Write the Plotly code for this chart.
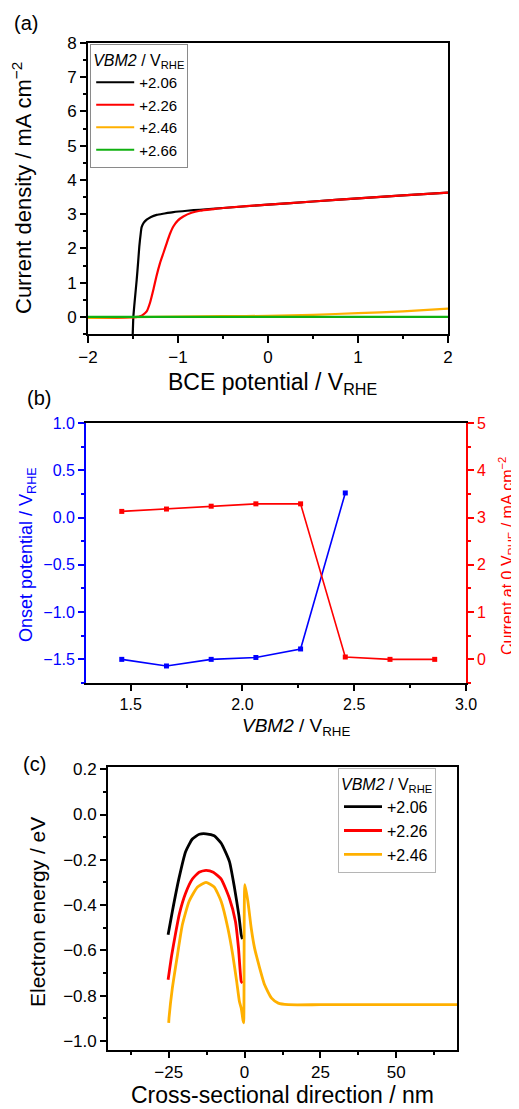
import plotly.graph_objects as go

# ---------------- Panel (a) data: J-V curves ----------------
a_black_x = [-1.51, -1.503, -1.496, -1.478, -1.459, -1.443, -1.43, -1.415, -1.404, -1.38, -1.348, -1.3,
             -1.237, -1.15, -1.052, -0.9, -0.756, -0.5, 0.0, 0.5, 1.0, 1.5, 2.0]
a_black_y = [-1.0, -0.5, 0.0, 0.55, 1.08, 1.6, 2.05, 2.42, 2.62, 2.75, 2.84, 2.92,
             2.98, 3.02, 3.06, 3.1, 3.13, 3.18, 3.28, 3.37, 3.46, 3.55, 3.63]
a_red_x = [-2.0, -1.6, -1.45, -1.422, -1.39, -1.348, -1.31, -1.274, -1.24, -1.2, -1.16, -1.126,
           -1.09, -1.052, -1.0, -0.941, -0.85, -0.756, -0.6, -0.5, 0.0, 0.5, 1.0, 1.5, 2.0]
a_red_y = [-0.03, -0.02, 0.0, 0.02, 0.06, 0.16, 0.42, 0.79, 1.18, 1.57, 1.88, 2.15,
           2.42, 2.64, 2.82, 2.93, 3.04, 3.1, 3.15, 3.18, 3.28, 3.37, 3.46, 3.55, 3.63]
a_orange_x = [-2.0, -1.5, -1.0, -0.5, 0.0, 0.5, 1.0, 1.5, 2.0]
a_orange_y = [-0.03, -0.01, 0.01, 0.02, 0.03, 0.06, 0.11, 0.16, 0.24]
a_green_x = [-2.0, -1.0, 0.0, 1.0, 2.0]
a_green_y = [0.0, 0.0, 0.0, 0.0, 0.0]
a_labels = ["+2.06", "+2.26", "+2.46", "+2.66"]

# ---------------- Panel (b) data ----------------
b_vbm_onset = [1.46, 1.66, 1.86, 2.06, 2.26, 2.46]
b_onset = [-1.50, -1.57, -1.50, -1.48, -1.39, 0.26]
b_vbm_current = [1.46, 1.66, 1.86, 2.06, 2.26, 2.46, 2.66, 2.86]
b_current = [3.13, 3.18, 3.24, 3.29, 3.29, 0.05, 0.0, 0.0]

# ---------------- Panel (c) data: band profiles ----------------
c_black_x = [-25.2, -23.8, -21.6, -19.4, -17.2, -14.9, -12.7, -10.0, -7.7, -5.0, -3.3, -1.9, -1.1, -0.7]
c_black_y = [-0.531, -0.428, -0.281, -0.163, -0.108, -0.087, -0.085, -0.094, -0.127, -0.207, -0.325, -0.443, -0.531, -0.55]
c_red_x = [-25.2, -24.0, -22.8, -21.5, -19.5, -17.2, -15.0, -12.7, -10.3, -7.7, -5.0, -3.0, -2.0, -1.1, -0.7]
c_red_y = [-0.730, -0.620, -0.530, -0.440, -0.350, -0.285, -0.255, -0.247, -0.255, -0.285, -0.370, -0.472, -0.590, -0.737, -0.745]
c_orange_x = [-25.0, -24.9, -23.8, -22.1, -20.5, -18.3, -15.5, -12.7, -10.0, -7.7, -5.5, -3.9, -2.6, -1.7, -1.1, -0.5,
              -0.3, 0.1, 1.1, 2.2, 3.3, 5.0, 6.6, 8.9, 11.1, 14.4, 25.0, 50.0, 70.0]
c_orange_y = [-0.92, -0.899, -0.767, -0.619, -0.487, -0.384, -0.320, -0.300, -0.320, -0.384, -0.502, -0.619, -0.737, -0.826, -0.855, -0.91,
              -0.92, -0.31, -0.384, -0.502, -0.590, -0.679, -0.752, -0.811, -0.833, -0.840, -0.840, -0.840, -0.840]
c_labels = ["+2.06", "+2.26", "+2.46"]

BLACK = "#000000"
RED = "#ff0000"
ORANGE = "#ffb000"
GREEN = "#10b010"
BLUE = "#0000ff"
FONT = "Liberation Sans, Arial, sans-serif"

fig = go.Figure()

# Panel (a)
for xs, ys, col, name in [(a_black_x, a_black_y, BLACK, a_labels[0]),
                          (a_red_x, a_red_y, RED, a_labels[1]),
                          (a_orange_x, a_orange_y, ORANGE, a_labels[2]),
                          (a_green_x, a_green_y, GREEN, a_labels[3])]:
    fig.add_trace(go.Scatter(x=xs, y=ys, mode="lines", name=name, line=dict(color=col, width=2.2, shape="spline", smoothing=0.6),
                             xaxis="x", yaxis="y", legend="legend"))

# Panel (b)
fig.add_trace(go.Scatter(x=b_vbm_onset, y=b_onset, mode="lines+markers", line=dict(color=BLUE, width=1.6),
                         marker=dict(symbol="square", size=5, color=BLUE), xaxis="x2", yaxis="y2", showlegend=False))
fig.add_trace(go.Scatter(x=b_vbm_current, y=b_current, mode="lines+markers", line=dict(color=RED, width=1.6),
                         marker=dict(symbol="square", size=5, color=RED), xaxis="x2", yaxis="y3", showlegend=False))

# Panel (c)
for xs, ys, col, name in [(c_black_x, c_black_y, BLACK, c_labels[0]),
                          (c_red_x, c_red_y, RED, c_labels[1]),
                          (c_orange_x, c_orange_y, ORANGE, c_labels[2])]:
    fig.add_trace(go.Scatter(x=xs, y=ys, mode="lines", name=name, line=dict(color=col, width=2.8, shape="spline", smoothing=0.5),
                             xaxis="x3", yaxis="y4", legend="legend2"))


def ax(domain, rng, dtick, mdtick, size, color=BLACK, mirror=True, anchor=None, tick0=None, **kw):
    d = dict(domain=domain, range=rng, dtick=dtick, ticks="outside", ticklen=6, tickwidth=1.5, tickcolor=color,
             showline=True, linecolor=color, linewidth=1.8, mirror=mirror, showgrid=False, zeroline=False,
             automargin=False,
             tickfont=dict(family=FONT, size=size, color=color),
             minor=dict(ticks="outside", dtick=mdtick, ticklen=3, tickwidth=1.5, tickcolor=color, showgrid=False))
    if anchor:
        d["anchor"] = anchor
    if tick0 is not None:
        d["tick0"] = tick0
        d["minor"]["tick0"] = tick0
    d.update(kw)
    return d


# The page body has an 8px default margin: the figure is placed at (8, 8) in the window.
OFF = 8
W, H = 519 - OFF, 1109 - OFF
def px(x):
    return (x - OFF) / W
def py(y):
    return 1 - (y - OFF) / H

fig.update_layout(
    width=W, height=H, margin=dict(l=0, r=0, t=0, b=0, pad=0, autoexpand=False),
    paper_bgcolor="white", plot_bgcolor="white",
    font=dict(family=FONT, color=BLACK),
    xaxis=ax([px(88), px(448)], [-2, 2], 1, 0.5, 17, anchor="y", ticklen=7),
    yaxis=ax([py(334), py(43)], [-0.5, 8], 1, 0.5, 17, anchor="x", tick0=0),
    xaxis2=ax([px(86), px(466)], [1.3, 3.0], 0.5, 0.25, 16, anchor="y2", tick0=1.5, tickformat=".1f"),
    yaxis2=ax([py(683), py(423)], [-1.75, 1.0], 0.5, 0.25, 16, color=BLUE, mirror=False, anchor="x2", tick0=0, tickformat=".1f"),
    yaxis3=ax([py(683), py(423)], [-0.5, 5], 1, 0.5, 16, color=RED, mirror=False, anchor="x2", tick0=0,
              overlaying="y2", side="right"),
    xaxis3=ax([px(108), px(457)], [-45, 70], 25, 12.5, 17, anchor="y4", tick0=0),
    yaxis4=ax([py(1050), py(767)], [-1.04, 0.21], 0.2, 0.1, 17, anchor="x3", tick0=0, tickformat=".1f"),
    legend=dict(x=px(90), y=py(44), xanchor="left", yanchor="top", bgcolor="white", bordercolor="#8a8a8a", borderwidth=1.2,
                font=dict(family=FONT, size=15, color=BLACK), tracegroupgap=0, itemwidth=38,
                title=dict(text="<i>VBM2</i> / V<sub>RHE</sub>", font=dict(family=FONT, size=16, color=BLACK))),
    legend2=dict(x=px(338), y=py(768), xanchor="left", yanchor="top", bgcolor="white", bordercolor="#b5b5b5", borderwidth=1,
                 font=dict(family=FONT, size=16, color=BLACK), tracegroupgap=0, itemwidth=38,
                 title=dict(text="<i>VBM2</i> / V<sub>RHE</sub>", font=dict(family=FONT, size=16, color=BLACK))),
)

def ann(text, x, y, size, color=BLACK, angle=0, xanchor="center"):
    fig.add_annotation(text=text, x=px(x), y=py(y), xref="paper", yref="paper", showarrow=False,
                       xanchor=xanchor, yanchor="middle", textangle=angle,
                       font=dict(family=FONT, size=size, color=color))

# panel labels
ann("(a)", 12, 23, 20, xanchor="left")
ann("(b)", 25, 398, 20, xanchor="left")
ann("(c)", 21, 764, 20, xanchor="left")

# panel (a) titles
ann("Current density / mA cm<sup>\u22122</sup>", 22, 188, 22, angle=-90)
ann("BCE potential / V<sub>RHE</sub>", 272, 383, 23)

# panel (b) titles
ann("Onset potential / V<sub>RHE</sub>", 27, 555, 18, color=BLUE, angle=-90)
ann("Current at 0 V<sub>RHE</sub> / mA cm<sup>\u22122</sup>", 507, 556, 16, color=RED, angle=-90)
ann("<i>VBM2</i> / V<sub>RHE</sub>", 296, 727, 19)

# panel (c) titles
ann("Electron energy / eV", 37, 912, 21, angle=-90)
ann("Cross-sectional direction / nm", 282, 1095, 23)

fig.write_html("out.html")
